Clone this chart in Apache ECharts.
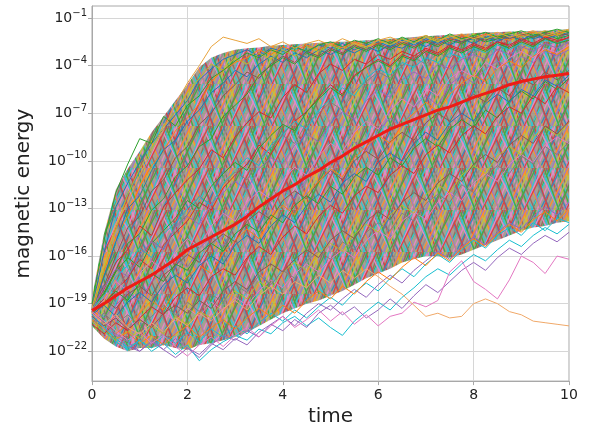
<!DOCTYPE html>
<html>
<head>
<meta charset="utf-8">
<script src="https://cdn.jsdelivr.net/npm/echarts@6/dist/echarts.min.js"></script>
<style>html,body{margin:0;padding:0;background:#fff}#c{width:589px;height:432px}</style>
</head>
<body>
<div id="c"></div>
<script>
// time samples (every 0.25)
const times = [0,0.25,0.5,0.75,1,1.25,1.5,1.75,2,2.25,2.5,2.75,3,3.25,3.5,3.75,4,4.25,4.5,4.75,5,5.25,5.5,5.75,6,6.25,6.5,6.75,7,7.25,7.5,7.75,8,8.25,8.5,8.75,9,9.25,9.5,9.75,10];
// y tick exponents (log10 of magnetic energy)
const yTickExponents = [-22,-19,-16,-13,-10,-7,-4,-1];
const xTicks = [0,2,4,6,8,10];
// envelope of the dense bundle of runs (log10)
const upperEdge = [-18.6,-14.6,-11.8,-10.5,-9.4,-8.2,-7.2,-6.2,-5.2,-4.1,-3.5,-3.2,-3.0,-2.9,-2.85,-2.75,-2.7,-2.65,-2.6,-2.55,-2.5,-2.5,-2.45,-2.4,-2.35,-2.3,-2.25,-2.2,-2.15,-2.1,-2.05,-2.0,-1.95,-1.9,-1.9,-1.85,-1.85,-1.8,-1.8,-1.75,-1.7];
const lowerEdge = [-20.4,-21.2,-21.7,-22.0,-21.8,-21.8,-21.6,-21.8,-21.9,-21.6,-21.5,-21.3,-21.1,-20.8,-20.4,-20.0,-19.6,-19.3,-19.0,-18.8,-18.5,-18.2,-17.8,-17.4,-17.1,-16.8,-16.4,-16.2,-16.0,-16.0,-16.1,-15.9,-15.6,-15.3,-15.0,-14.7,-14.4,-14.2,-14.1,-13.9,-13.8];
// mean curve (red)
const meanLog = [-19.44,-19.0,-18.5,-18.0,-17.6,-17.2,-16.7,-16.2,-15.6,-15.2,-14.8,-14.4,-14.0,-13.5,-12.9,-12.4,-11.9,-11.5,-11.0,-10.6,-10.1,-9.7,-9.2,-8.8,-8.4,-8.0,-7.7,-7.4,-7.1,-6.8,-6.6,-6.3,-6.0,-5.75,-5.5,-5.2,-5.0,-4.85,-4.7,-4.6,-4.5];
// individual runs (log10)
const walk01 = [-19.3,-15.8,-12.9,-11.4,-10.1,-8.9,-8.0,-7.1,-6.2,-4.9,-4.2,-3.6,-3.3,-3.0,-3.4,-2.9,-3.1,-2.8,-3.2,-2.7,-2.9,-2.6,-3.0,-2.7,-2.5,-2.8,-2.4,-2.7,-2.3,-2.6,-2.2,-2.5,-2.3,-2.1,-2.4,-2.2,-2.0,-2.3,-2.1,-1.9,-2.1];
const walk02 = [-19.6,-17.0,-14.8,-13.5,-11.6,-10.3,-9.4,-8.1,-7.3,-6.4,-5.0,-4.3,-3.8,-3.5,-3.0,-3.3,-2.8,-3.1,-2.7,-3.0,-2.6,-2.9,-2.5,-2.8,-2.6,-2.4,-2.7,-2.3,-2.5,-2.2,-2.4,-2.1,-2.3,-2.0,-2.2,-2.4,-2.1,-1.9,-2.2,-2.0,-1.8];
const walk03 = [-19.4,-18.3,-16.9,-15.2,-14.6,-13.1,-12.4,-11.0,-10.3,-9.1,-8.6,-7.2,-6.5,-5.8,-4.6,-4.0,-3.5,-3.9,-3.2,-3.5,-3.0,-3.3,-2.8,-3.1,-2.7,-3.0,-2.6,-2.9,-2.5,-2.8,-2.4,-2.6,-2.2,-2.5,-2.3,-2.1,-2.4,-2.2,-2.0,-2.3,-2.1];
const walk04 = [-19.8,-19.0,-18.1,-17.4,-16.2,-16.8,-15.3,-14.5,-13.8,-12.6,-13.1,-11.7,-10.9,-10.2,-9.0,-9.6,-8.3,-7.5,-6.9,-6.0,-5.2,-5.8,-4.6,-4.1,-3.6,-4.0,-3.3,-3.6,-3.0,-3.3,-2.8,-3.1,-2.7,-3.0,-2.5,-2.8,-2.4,-2.7,-2.3,-2.5,-2.2];
const walk05 = [-19.2,-19.9,-19.1,-18.3,-18.8,-17.6,-17.0,-16.1,-16.7,-15.5,-14.8,-15.4,-14.1,-13.3,-13.9,-12.6,-11.8,-12.4,-11.1,-10.3,-10.9,-9.6,-8.8,-9.4,-8.1,-7.3,-7.9,-6.6,-5.9,-6.5,-5.2,-4.6,-5.1,-4.2,-3.7,-4.1,-3.4,-3.8,-3.1,-3.4,-3.0];
const walk06 = [-19.5,-18.7,-19.3,-18.4,-17.9,-18.5,-17.2,-16.6,-15.9,-16.4,-15.2,-14.6,-15.1,-13.8,-13.2,-13.7,-12.5,-11.9,-12.4,-11.3,-10.6,-11.2,-10.0,-9.4,-9.9,-8.8,-8.2,-8.7,-7.6,-7.0,-7.5,-6.4,-5.8,-6.3,-5.4,-5.9,-4.8,-5.2,-4.4,-4.9,-4.3];
const walk07 = [-19.7,-20.4,-19.8,-20.6,-19.9,-20.5,-19.6,-20.1,-19.3,-19.8,-18.9,-19.4,-18.6,-19.1,-18.2,-17.5,-18.0,-17.1,-16.5,-17.0,-16.2,-15.6,-16.1,-15.0,-14.4,-14.9,-13.8,-13.2,-13.7,-12.6,-12.0,-12.5,-11.4,-10.8,-11.3,-10.2,-9.6,-10.1,-9.0,-8.5,-8.9];
const walk08 = [-19.0,-17.8,-18.4,-16.9,-16.2,-15.0,-15.6,-14.1,-13.4,-12.2,-12.8,-11.5,-10.7,-11.2,-9.9,-9.2,-8.4,-8.9,-7.6,-7.0,-6.3,-6.8,-5.6,-5.0,-4.4,-4.8,-4.0,-3.5,-3.9,-3.2,-3.5,-2.9,-3.2,-2.7,-3.0,-2.6,-2.9,-2.5,-2.8,-2.4,-2.6];
const walk09 = [-20.1,-20.8,-21.3,-20.7,-21.2,-20.4,-20.9,-19.8,-20.3,-19.5,-19.9,-18.8,-18.2,-18.7,-17.6,-18.1,-17.0,-16.4,-16.9,-15.8,-15.2,-15.7,-14.6,-14.0,-14.5,-13.4,-12.8,-13.3,-12.1,-11.5,-12.0,-10.9,-10.3,-10.8,-9.7,-9.1,-9.6,-8.5,-7.9,-8.4,-7.6];
const walk10 = [-19.9,-20.7,-21.4,-21.9,-21.3,-21.8,-21.0,-21.5,-20.8,-21.4,-20.6,-21.1,-20.4,-20.9,-20.2,-19.6,-20.1,-19.4,-19.9,-19.2,-18.6,-19.1,-18.3,-17.7,-18.2,-17.4,-16.8,-17.3,-16.5,-15.9,-16.4,-15.6,-15.0,-15.5,-14.7,-14.2,-14.7,-13.9,-14.4,-13.6,-13.9];
const walk11 = [-19.5,-17.3,-15.1,-13.0,-12.2,-10.6,-9.3,-8.7,-7.5,-6.8,-5.7,-5.1,-4.3,-4.7,-3.9,-3.4,-3.8,-3.2,-3.5,-3.0,-3.3,-2.9,-3.2,-2.8,-3.1,-2.7,-2.9,-2.5,-2.8,-2.4,-2.7,-2.3,-2.6,-2.2,-2.5,-2.1,-2.4,-2.0,-2.3,-2.1,-1.9];
const walk12 = [-19.3,-20.2,-20.9,-20.3,-19.6,-18.8,-19.4,-18.1,-17.3,-16.6,-17.1,-15.8,-15.0,-14.3,-14.9,-13.6,-12.8,-13.4,-12.1,-11.3,-10.5,-11.0,-9.8,-9.1,-8.4,-8.9,-7.7,-7.0,-6.3,-6.9,-5.8,-5.1,-4.6,-5.0,-4.2,-3.7,-4.1,-3.4,-3.0,-3.3,-2.8];
const walk13 = [-19.6,-19.0,-18.2,-18.8,-17.7,-17.1,-17.6,-16.5,-16.9,-15.8,-15.2,-15.7,-14.6,-14.0,-14.5,-13.4,-13.9,-12.8,-12.2,-12.7,-11.6,-12.1,-11.0,-10.4,-10.9,-9.8,-10.3,-9.2,-8.6,-9.1,-8.0,-7.4,-7.9,-6.8,-7.3,-6.2,-5.6,-6.1,-5.0,-5.5,-4.8];
const walk14 = [-19.4,-18.1,-16.4,-15.6,-14.1,-14.7,-12.9,-12.0,-11.2,-10.5,-9.3,-9.8,-8.5,-7.6,-6.9,-7.3,-6.0,-5.2,-5.7,-4.5,-3.9,-4.3,-3.6,-3.9,-3.3,-3.6,-3.1,-3.4,-2.9,-3.2,-2.7,-3.0,-2.6,-2.9,-2.5,-2.7,-2.3,-2.6,-2.2,-2.4,-2.3];
const walk15 = [-19.8,-20.5,-21.0,-21.7,-22.0,-21.4,-21.9,-21.2,-21.8,-22.4,-21.6,-21.0,-21.3,-20.7,-21.1,-20.3,-19.8,-20.4,-19.6,-19.0,-19.4,-18.7,-18.1,-18.6,-17.8,-17.2,-17.7,-16.9,-16.3,-15.7,-16.2,-15.4,-14.8,-15.3,-14.5,-13.9,-14.3,-13.5,-12.9,-13.4,-12.6];
const walk16 = [-19.1,-17.9,-16.0,-14.2,-13.5,-11.9,-11.2,-9.8,-9.1,-7.7,-7.0,-5.9,-5.2,-4.4,-4.8,-3.9,-3.4,-3.8,-3.1,-3.4,-2.9,-3.2,-2.7,-3.0,-2.6,-2.9,-2.5,-2.8,-2.4,-2.7,-2.3,-2.5,-2.2,-2.4,-2.1,-2.3,-2.0,-2.2,-1.9,-2.1,-2.0];
const walk17 = [-19.5,-18.8,-17.6,-18.2,-17.1,-16.3,-16.9,-15.7,-14.9,-15.4,-14.1,-13.3,-13.8,-12.6,-11.9,-12.4,-11.2,-10.4,-10.9,-9.7,-8.9,-9.4,-8.2,-7.5,-8.0,-6.8,-6.1,-6.6,-5.4,-5.9,-4.8,-4.3,-4.7,-3.8,-4.2,-3.5,-3.1,-3.5,-2.9,-3.2,-2.7];
const walk18 = [-20.2,-19.6,-20.3,-19.7,-20.4,-19.8,-19.1,-19.7,-18.9,-19.5,-18.4,-18.9,-17.8,-18.3,-17.2,-17.8,-16.9,-17.4,-16.3,-15.7,-16.2,-15.1,-15.6,-14.5,-13.9,-14.4,-13.3,-13.8,-12.7,-12.1,-12.6,-11.5,-12.0,-10.9,-10.3,-10.8,-9.7,-10.2,-9.1,-9.6,-8.8];
const walk19 = [-19.6,-16.8,-14.3,-12.1,-10.5,-9.2,-7.8,-6.9,-5.7,-4.8,-3.9,-4.3,-3.5,-3.9,-3.2,-3.6,-3.0,-3.4,-2.8,-3.1,-2.7,-3.0,-2.6,-2.9,-2.4,-2.7,-2.3,-2.6,-2.2,-2.5,-2.1,-2.4,-2.0,-2.3,-2.1,-1.9,-2.2,-2.0,-1.8,-2.1,-1.8];
const walk20 = [-19.3,-18.5,-17.3,-16.6,-15.5,-16.1,-14.6,-13.9,-13.0,-12.3,-12.8,-11.4,-10.6,-9.8,-10.3,-9.0,-8.3,-7.5,-8.0,-6.8,-6.1,-5.4,-5.9,-4.8,-4.2,-4.6,-3.8,-4.1,-3.5,-3.8,-3.2,-3.5,-2.9,-3.2,-2.7,-3.0,-2.6,-2.9,-2.4,-2.6,-2.3];
const walk21 = [-19.7,-19.1,-19.8,-18.9,-18.3,-18.9,-17.8,-17.2,-17.7,-16.6,-16.0,-16.5,-15.3,-14.7,-15.2,-14.1,-13.4,-13.9,-12.8,-12.1,-12.6,-11.4,-10.8,-11.3,-10.1,-9.5,-10.0,-8.9,-8.2,-8.7,-7.6,-7.0,-7.5,-6.4,-5.8,-6.3,-5.5,-5.9,-4.9,-5.3,-4.6];
const walk22 = [-20.0,-20.6,-21.2,-20.8,-21.5,-21.0,-21.6,-20.9,-20.4,-21.1,-20.5,-20.0,-20.6,-19.9,-19.3,-19.8,-19.1,-19.6,-18.8,-18.2,-18.7,-17.9,-18.4,-17.6,-17.0,-17.5,-16.7,-16.1,-16.6,-15.8,-16.3,-15.5,-14.9,-15.4,-14.6,-14.0,-14.5,-13.7,-13.2,-13.8,-13.0];
const walk23 = [-19.2,-18.4,-17.0,-16.1,-16.7,-15.2,-14.4,-13.6,-12.5,-13.0,-11.6,-10.8,-10.1,-10.6,-9.2,-8.4,-7.7,-8.1,-6.9,-6.1,-5.4,-5.9,-4.7,-4.1,-3.7,-4.1,-3.4,-3.7,-3.1,-3.4,-2.9,-3.2,-2.8,-3.1,-2.6,-2.9,-2.5,-2.8,-2.3,-2.6,-2.4];
const walk24 = [-20.3,-20.9,-20.2,-20.7,-19.9,-19.2,-19.7,-18.6,-18.0,-18.5,-17.3,-16.8,-17.2,-16.1,-15.4,-15.9,-14.8,-14.1,-14.6,-13.5,-12.8,-13.3,-12.2,-11.6,-12.0,-10.9,-10.3,-10.8,-9.6,-9.0,-9.5,-8.4,-7.8,-8.3,-7.2,-6.6,-7.0,-5.9,-6.4,-5.3,-5.7];
const walk25 = [-19.4,-18.0,-16.8,-17.3,-15.9,-15.1,-15.6,-14.2,-13.5,-14.0,-12.7,-12.0,-11.3,-11.8,-10.5,-9.8,-10.2,-9.0,-8.3,-8.8,-7.6,-6.9,-7.4,-6.2,-5.5,-6.0,-4.9,-4.4,-4.8,-3.9,-4.2,-3.6,-3.3,-3.6,-3.0,-3.3,-2.8,-3.1,-2.6,-2.9,-2.5];
const walk26 = [-19.8,-20.4,-19.9,-20.6,-20.0,-20.5,-19.6,-19.1,-19.6,-18.8,-19.3,-18.2,-17.6,-18.1,-17.0,-16.5,-17.0,-16.2,-15.6,-16.1,-15.0,-14.4,-14.9,-13.8,-13.2,-13.7,-12.6,-12.0,-12.5,-11.4,-10.8,-11.3,-10.2,-9.6,-10.1,-9.0,-8.4,-8.9,-7.8,-8.3,-7.5];
// runs that stand out from the bundle
const earlyGreen = [-19.0,-15.0,-12.0,-10.2,-8.6,-8.9,-7.2,-7.8,-6.5,-5.9,-4.8,-4.3,-3.7,-3.2,-3.5,-3.0,-3.3,-2.8,-3.1,-2.7,-2.5,-2.8,-2.4,-2.6,-2.3,-2.6,-2.2,-2.5,-2.1,-2.4,-2.0,-2.3,-2.1,-1.9,-2.2,-2.0,-1.8,-2.1,-1.9,-1.7,-1.9];
const earlyOrange = [-19.3,-16.5,-14.0,-12.6,-10.9,-9.4,-8.0,-6.4,-5.1,-4.0,-2.8,-2.2,-2.4,-2.6,-2.3,-2.8,-2.5,-2.9,-2.6,-2.4,-2.7,-2.3,-2.6,-2.8,-2.4,-2.2,-2.5,-2.3,-2.1,-2.4,-2.2,-2.0,-2.3,-2.1,-1.9,-2.2,-2.0,-1.8,-2.1,-1.9,-1.7];
const lowCyan = [-19.7,-20.5,-21.2,-21.8,-21.3,-22.0,-21.5,-22.2,-21.6,-22.6,-21.9,-21.4,-21.0,-21.3,-20.6,-20.9,-20.2,-19.8,-20.4,-19.9,-20.5,-21.0,-20.1,-19.5,-18.9,-19.4,-18.6,-18.0,-17.3,-16.8,-17.2,-16.5,-15.9,-16.3,-15.6,-15.0,-15.4,-14.7,-14.2,-14.6,-14.0];
const lowPurple = [-19.5,-20.2,-20.9,-21.4,-22.0,-21.3,-21.9,-22.4,-21.8,-22.2,-21.5,-21.9,-21.2,-21.6,-20.8,-20.3,-20.7,-20.0,-20.5,-19.6,-19.1,-19.7,-19.2,-19.9,-19.4,-18.7,-19.3,-18.5,-17.8,-18.3,-17.6,-16.9,-16.4,-16.9,-16.1,-15.5,-15.9,-15.2,-14.7,-15.1,-14.5];
const lowPink = [-19.5,-20.1,-20.7,-21.3,-20.8,-21.5,-21.0,-21.7,-22.3,-21.6,-21.1,-21.7,-21.0,-20.5,-21.1,-20.4,-19.8,-20.5,-20.0,-19.4,-20.1,-19.5,-20.3,-19.7,-20.4,-19.8,-19.6,-18.9,-19.2,-18.8,-17.0,-16.3,-17.6,-18.1,-18.7,-17.5,-16.0,-16.4,-17.1,-16.0,-16.2];
const lowOrange = [-19.6,-20.3,-19.7,-20.5,-20.9,-20.2,-20.8,-19.9,-20.4,-19.6,-20.1,-19.3,-18.8,-19.4,-18.5,-17.9,-18.4,-17.6,-18.0,-17.2,-17.7,-16.9,-17.4,-16.8,-17.3,-17.9,-18.4,-19.1,-19.8,-19.6,-19.9,-19.8,-19.0,-18.7,-19.0,-19.5,-19.7,-20.1,-20.2,-20.3,-20.4];

const walks = [walk01,walk02,walk03,walk04,walk05,walk06,walk07,walk08,walk09,walk10,walk11,walk12,walk13,walk14,walk15,walk16,walk17,walk18,walk19,walk20,walk21,walk22,walk23,walk24,walk25,walk26];
const tab10 = ['#1f77b4','#ff7f0e','#2ca02c','#d62728','#9467bd','#8c564b','#e377c2','#7f7f7f','#bcbd22','#17becf'];

function pairs(arr){ return arr.map((v,i)=>[times[i], v]); }

// texture used to fill the dense bundle (irregular steep criss-cross strokes)
function makeHatch(){
  const W = 42, H = 42;
  const c = document.createElement('canvas'); c.width = W; c.height = H;
  const g = c.getContext('2d');
  g.fillStyle = '#9a9282'; g.fillRect(0,0,W,H);
  g.lineWidth = 1.3;
  const upOffsets = [0,2,5,8,10,13,17,19,22,25,28,30,34,37,40];
  const dnOffsets = [1,4,6,9,12,15,18,21,23,26,29,32,35,38,41];
  const upSlant = [14,10,12,14,10,12,14,12,10,14,12,10,14,12,10];
  for (let k=0;k<15;k++){
    [[upOffsets,1],[dnOffsets,-1]].forEach(([offs,dir],j)=>{
      g.strokeStyle = tab10[(k*(j?7:3)+(j?5:0))%10];
      const x0 = offs[k], dx = dir*upSlant[(k+j*4)%15];
      [-W,0,W].forEach(s=>{ g.beginPath(); g.moveTo(x0+s,0); g.lineTo(x0+s+dx*1.5,H); g.stroke(); });
    });
  }
  return c;
}
const hatch = makeHatch();

const series = [];
// dense bundle drawn as one polygon between the read envelopes
series.push({type:'custom', data:[[times[0], lowerEdge[0]]], silent:true, z:1, clip:true,
  renderItem:(params, api)=>{
    const pts = [];
    for (let i=0;i<times.length;i++) pts.push(api.coord([times[i], upperEdge[i]]));
    for (let i=times.length-1;i>=0;i--) pts.push(api.coord([times[i], lowerEdge[i]]));
    return {type:'polygon', shape:{points:pts}, style:{fill:{image:hatch, repeat:'repeat'}, opacity:0.88}};
  }});
walks.forEach((w,i)=>series.push({type:'line', data: pairs(w), symbol:'none', lineStyle:{width:1, color: tab10[i%10]}, silent:true, z:2}));
[[lowCyan,'#17becf'],[lowPurple,'#9467bd'],[lowPink,'#e377c2'],[lowOrange,'#f0a868'],[earlyGreen,'#2ca02c'],[earlyOrange,'#e8a33c']].forEach(([d,c])=>
  series.push({type:'line', data: pairs(d), symbol:'none', lineStyle:{width:1, color:c}, silent:true, z:2}));
series.push({type:'line', data: pairs(meanLog), symbol:'none', lineStyle:{width:3, color:'#ee1c16'}, silent:true, z:3});

const chart = echarts.init(document.getElementById('c'), null, {renderer:'canvas'});
chart.setOption({
  animation:false,
  textStyle:{fontFamily:'DejaVu Sans'},
  grid:{left:92, right:20, top:6, bottom:43, show:true, borderColor:'#a8a8a8', borderWidth:1, backgroundColor:'transparent'},
  xAxis:{type:'value', min:0, max:10, interval:2,
    name:'time', nameLocation:'middle', nameGap:24, nameTextStyle:{fontSize:20, color:'#222', fontFamily:'DejaVu Sans'},
    axisLine:{lineStyle:{color:'#a8a8a8'}}, axisTick:{show:true, length:4, lineStyle:{color:'#a8a8a8'}},
    axisLabel:{fontSize:14, color:'#222', margin:7, formatter: v => xTicks.includes(v) ? String(v) : ''},
    splitLine:{show:true, lineStyle:{color:'#d6d6d6', width:1}}},
  yAxis:{type:'value', min:-23.88, max:-0.24,
    name:'magnetic energy', nameLocation:'middle', nameGap:58, nameTextStyle:{fontSize:20, color:'#222', fontFamily:'DejaVu Sans'},
    axisLine:{show:true, lineStyle:{color:'#a8a8a8'}},
    axisTick:{show:true, length:4, customValues: yTickExponents, lineStyle:{color:'#a8a8a8'}},
    axisLabel:{customValues: yTickExponents, margin:5, color:'#222',
      formatter: v => '{b|10}{s|\u2212' + Math.abs(Math.round(v)) + '}',
      rich:{b:{fontSize:14, lineHeight:20, color:'#222', fontFamily:'DejaVu Sans'}, s:{fontSize:10, verticalAlign:'top', color:'#222', fontFamily:'DejaVu Sans'}}},
    splitLine:{show:true, lineStyle:{color:'#d6d6d6', width:1}}},
  series: series
});
</script>
</body>
</html>
